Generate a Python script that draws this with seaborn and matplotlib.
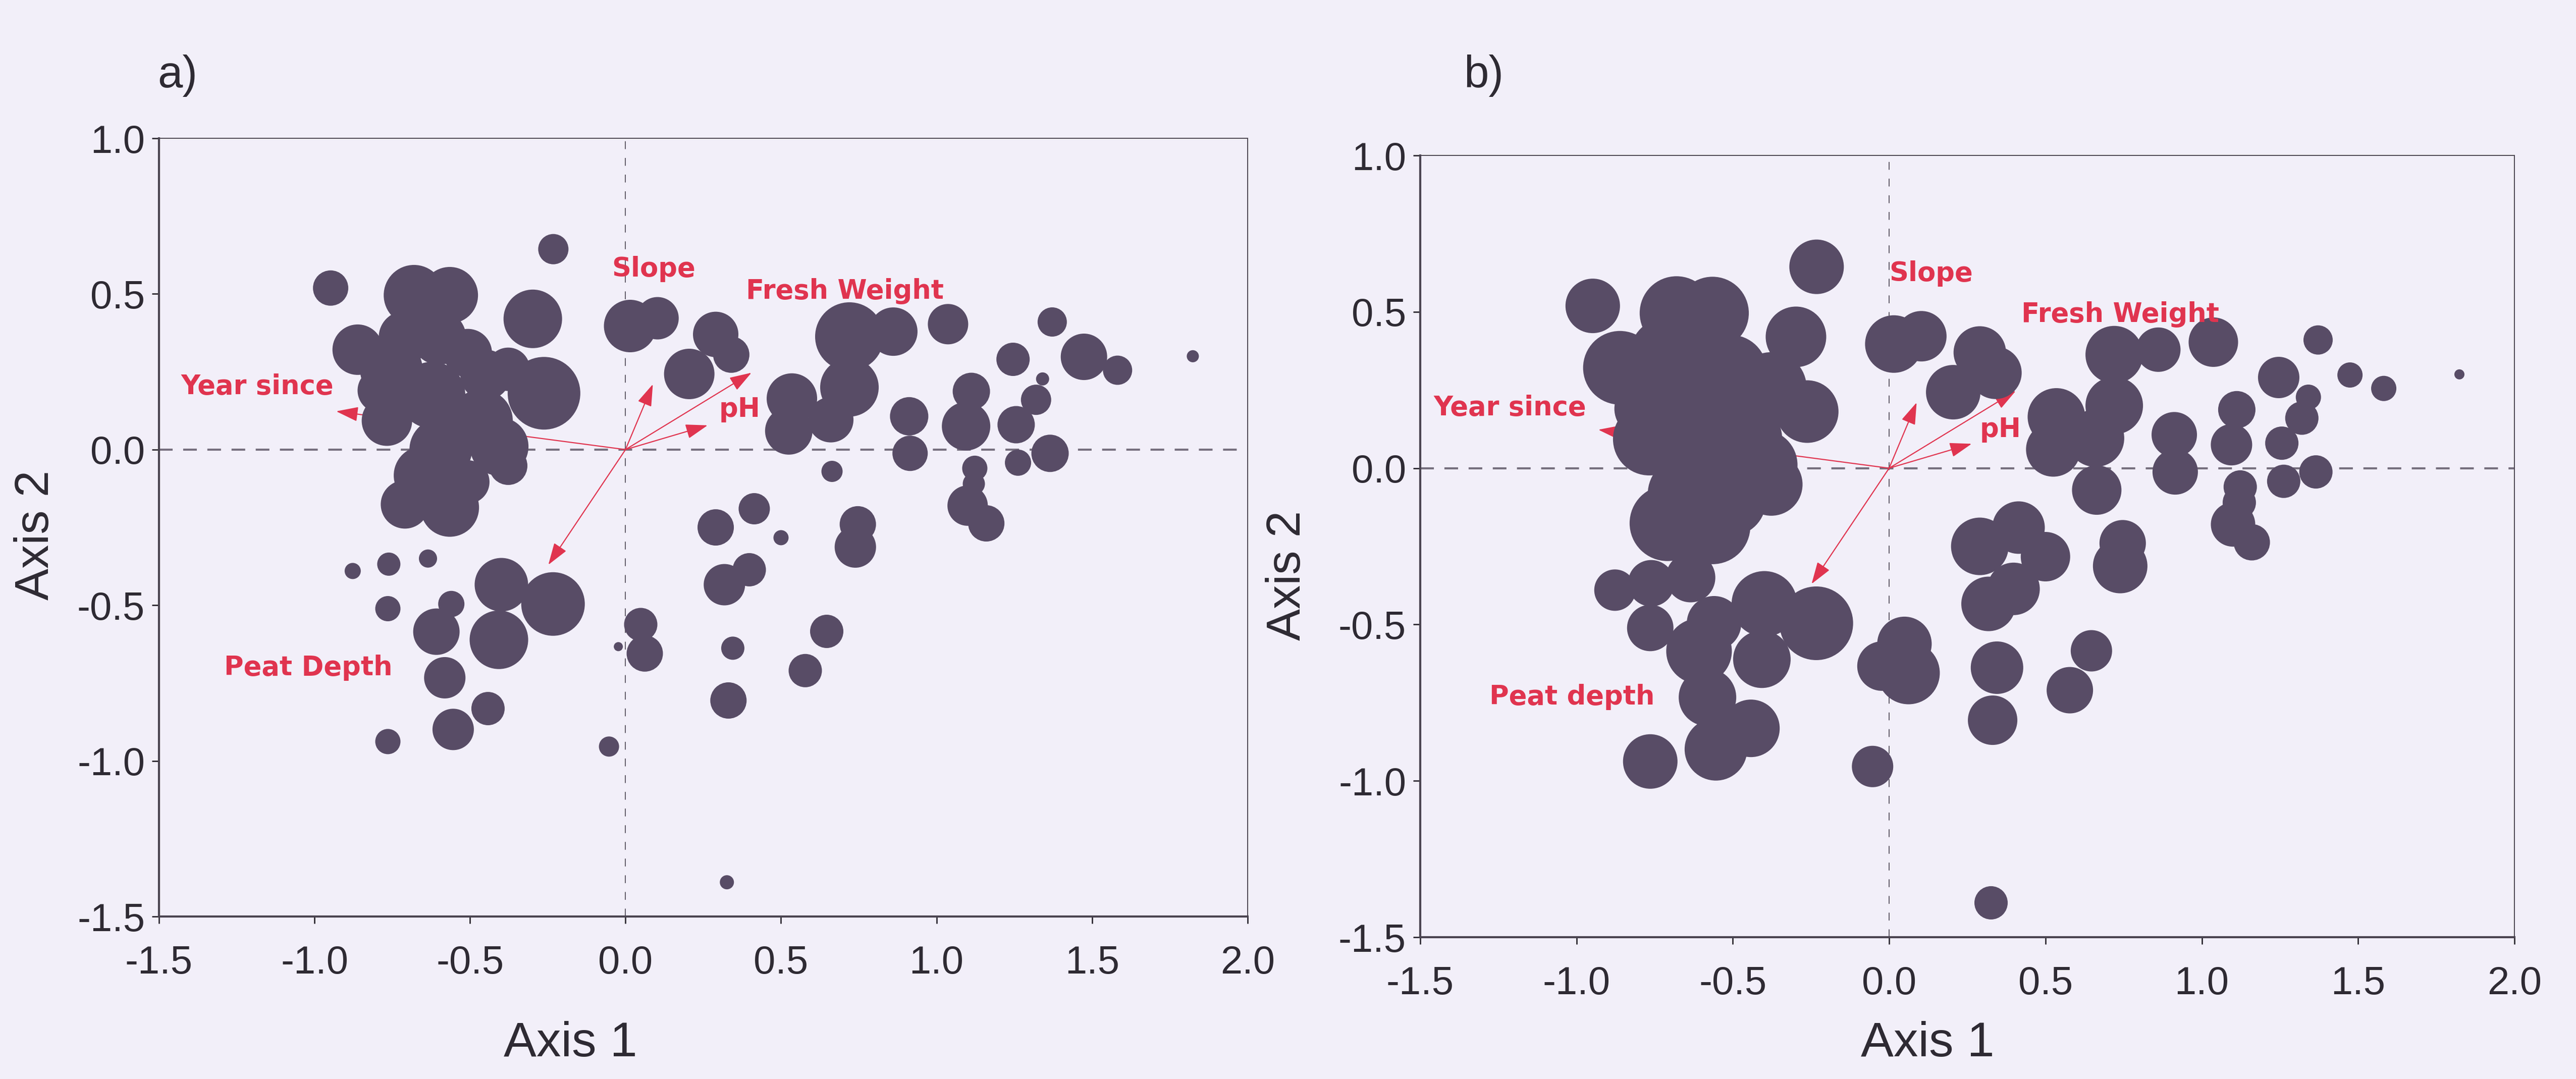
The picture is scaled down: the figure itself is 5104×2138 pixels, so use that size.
import numpy as np
import pandas as pd
import matplotlib
matplotlib.use("Agg")
import matplotlib.pyplot as plt
import seaborn as sns

# Site scores on the first two ordination axes
axis1 = [-0.232, -0.948, -0.680, -0.565, -0.298, 0.015, 0.103, 0.290, 0.340, 0.205,
         -0.861, -0.262, -0.377, -0.507, -0.709, -0.753, -0.622, -0.767, -0.463, -0.406,
         -0.594, -0.651, -0.709, -0.565, -0.507, -0.377, -0.450, -0.790, -0.600,
         0.720, 0.861, 1.037, 1.372, 1.474, 1.582, 1.824, 1.246, 1.341, 1.320,
         1.112, 1.256, 1.095, 0.912, 0.915, 0.720, 0.535, 0.525, 0.660, 1.365,
         1.262, 1.123, 0.664, 1.100, 1.160, 1.120,
         0.290, 0.414, 0.500, 0.747, 0.739, 0.318, 0.398, 0.345, 0.331, 0.647,
         0.578, 0.326, 0.049, 0.062, -0.023, -0.053,
         -0.877, -0.761, -0.635, -0.764, -0.560, -0.608, -0.399, -0.233, -0.407, -0.581,
         -0.442, -0.554, -0.764]
axis2 = [0.644, 0.519, 0.496, 0.496, 0.420, 0.397, 0.422, 0.370, 0.305, 0.243,
         0.321, 0.181, 0.258, 0.310, 0.361, 0.258, 0.175, 0.093, 0.093, 0.010,
         0.000, -0.083, -0.176, -0.186, -0.104, -0.052, 0.240, 0.190, 0.360,
         0.363, 0.379, 0.403, 0.410, 0.298, 0.255, 0.300, 0.290, 0.227, 0.160,
         0.187, 0.080, 0.075, 0.107, -0.012, 0.200, 0.164, 0.060, 0.096, -0.012,
         -0.042, -0.060, -0.070, -0.180, -0.237, -0.110,
         -0.250, -0.190, -0.283, -0.240, -0.313, -0.434, -0.386, -0.638, -0.806, -0.584,
         -0.710, -1.390, -0.562, -0.655, -0.633, -0.954,
         -0.390, -0.368, -0.350, -0.511, -0.496, -0.585, -0.434, -0.496, -0.611, -0.733,
         -0.832, -0.899, -0.938]

# Relative bubble size of each site for the two response variables
size_a = [3.0, 3.5, 6.0, 5.6, 5.8, 5.2, 4.2, 4.5, 3.6, 5.0,
          5.0, 7.2, 4.3, 4.8, 5.2, 6.2, 6.6, 5.0, 6.2, 5.8,
          6.2, 5.8, 4.8, 5.8, 4.3, 3.8, 5.0, 4.4, 5.4,
          6.8, 4.8, 4.0, 2.9, 4.6, 2.9, 1.2, 3.3, 1.3, 3.0,
          3.7, 3.7, 4.8, 3.8, 3.5, 5.8, 5.0, 4.7, 4.5, 3.7,
          2.6, 2.5, 2.1, 4.0, 3.6, 2.2,
          3.6, 3.1, 1.5, 3.6, 4.1, 4.1, 3.3, 2.3, 3.6, 3.3,
          3.3, 1.4, 3.3, 3.6, 0.9, 2.0,
          1.6, 2.3, 1.8, 2.5, 2.6, 4.6, 5.3, 6.3, 5.8, 4.1,
          3.3, 4.1, 2.5]
size_b = [5.4, 5.4, 7.3, 7.2, 6.0, 5.7, 5.0, 5.2, 5.2, 5.4,
          7.3, 6.2, 7.0, 7.2, 7.5, 7.8, 7.8, 7.2, 7.5, 7.0,
          7.8, 7.5, 7.5, 7.5, 7.0, 6.2, 7.0, 5.5, 7.5,
          5.7, 4.4, 4.9, 2.9, 2.5, 2.5, 1.0, 4.1, 2.5, 3.3,
          3.7, 3.3, 4.1, 4.5, 4.5, 5.7, 5.7, 5.4, 5.7, 3.3,
          3.3, 3.3, 4.9, 4.4, 3.6, 3.3,
          5.7, 5.2, 4.9, 4.6, 5.4, 5.4, 5.2, 5.2, 4.9, 4.1,
          4.6, 3.3, 5.4, 6.2, 4.9, 4.1,
          4.1, 4.6, 4.9, 4.6, 5.4, 6.5, 6.5, 7.3, 5.7, 5.7,
          5.7, 6.2, 5.4]

# Environmental vectors (biplot arrows)
env_names = ["Year since", "Slope", "pH", "Fresh Weight", "Peat depth"]
env_x = [-0.930, 0.088, 0.264, 0.405, -0.248]
env_y = [0.123, 0.210, 0.078, 0.247, -0.370]

panel_titles = ["a)", "b)"]
depth_label = ["Peat Depth", "Peat depth"]

BG = "#F2EFF9"
DOT = "#584C66"
RED = "#E0344F"
INK = "#2E2A33"

sns.set_theme(style="white")
plt.rcParams["font.family"] = ["Liberation Sans", "DejaVu Sans"]
plt.rcParams["axes.unicode_minus"] = False

fig = plt.figure(figsize=(51.04, 21.38), dpi=100, facecolor=BG)

df = pd.DataFrame({"Axis 1": axis1, "Axis 2": axis2,
                   "sa": size_a, "sb": size_b})
# marker area in pt^2 from relative radius
df["area_a"] = (14.4 * df["sa"]) ** 2
df["area_b"] = (14.4 * df["sb"]) ** 2

boxes = [[0.0617, 0.1506, 0.4226, 0.7212], [0.5513, 0.1314, 0.4248, 0.7245]]
label_pos = [
    {"Year since": (-1.43, 0.202), "Slope": (-0.044, 0.58), "pH": (0.30, 0.13),
     "Fresh Weight": (0.387, 0.509), "Peat depth": (-1.29, -0.70)},
    {"Year since": (-1.457, 0.193), "Slope": (0.0, 0.622), "pH": (0.29, 0.124),
     "Fresh Weight": (0.423, 0.491), "Peat depth": (-1.278, -0.731)},
]
xlab = [(0.378, -0.134), (0.4636, -0.107)]
ylab = [(-0.092, 0.49), (-0.1006, 0.463)]
title_xy = [(312, 150), (2900, 150)]

for k, (col, box) in enumerate(zip(["area_a", "area_b"], boxes)):
    ax = fig.add_axes(box)
    ax.set_facecolor("none")
    ax.axhline(0, color="#77707F", lw=3.0, ls=(0, (6.5, 5)), zorder=1)
    ax.axvline(0, color="#5E5866", lw=1.4, ls=(0, (8, 9)), zorder=1)

    for name, ex, ey in zip(env_names, env_x, env_y):
        ax.annotate("", xy=(ex, ey), xytext=(0, 0),
                    arrowprops=dict(arrowstyle="-|>,head_length=0.9,head_width=0.3",
                                    color=RED, lw=1.6, mutation_scale=30,
                                    shrinkA=0, shrinkB=0),
                    zorder=2)

    lo, hi = df[col].min(), df[col].max()
    sns.scatterplot(data=df, x="Axis 1", y="Axis 2", size=col, sizes=(lo, hi),
                    size_norm=(lo, hi), color=DOT, linewidth=0, alpha=1,
                    legend=False, ax=ax, zorder=3)

    for name in env_names:
        tx, ty = label_pos[k][name]
        txt = depth_label[k] if name == "Peat depth" else name
        ax.text(tx, ty, txt, color=RED, fontsize=38, fontweight="bold",
                family=["DejaVu Sans"], ha="left", va="center", zorder=4)

    ax.set_xlim(-1.5, 2.0)
    ax.set_ylim(-1.5, 1.0)
    ax.set_xticks(np.arange(-1.5, 2.01, 0.5))
    ax.set_yticks(np.arange(-1.5, 1.01, 0.5))
    ax.xaxis.set_major_formatter(matplotlib.ticker.FormatStrFormatter("%.1f"))
    ax.yaxis.set_major_formatter(matplotlib.ticker.FormatStrFormatter("%.1f"))
    ax.tick_params(axis="both", which="both", direction="out", length=10, width=2,
                   color=INK, labelsize=56, labelcolor=INK, bottom=True, left=True,
                   top=False, right=False)
    ax.tick_params(axis="x", pad=30)
    ax.tick_params(axis="y", pad=10)
    for side, sp in ax.spines.items():
        sp.set_visible(True)
        sp.set_color("#4A4450")
        sp.set_linewidth(3.0 if side in ("left", "bottom") else 1.4)

    ax.set_xlabel("Axis 1", fontsize=70, color=INK)
    ax.set_ylabel("Axis 2", fontsize=68, color=INK)
    ax.xaxis.set_label_coords(*xlab[k])
    ax.yaxis.set_label_coords(*ylab[k])

    fig.text(title_xy[k][0] / 5104, 1 - title_xy[k][1] / 2138, panel_titles[k],
             fontsize=64, color=INK, ha="left", va="center")

fig.savefig("out.png", dpi=100, facecolor=BG)
